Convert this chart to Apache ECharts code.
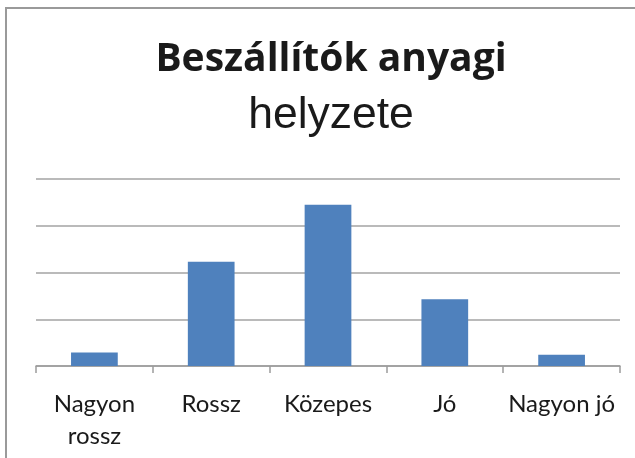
<!DOCTYPE html>
<html>
<head>
<meta charset="utf-8">
<script src="https://cdn.jsdelivr.net/npm/echarts@6/dist/echarts.min.js"></script>
<style>
    html, body { margin: 0; padding: 0; background: #fff; }
    #bar_chart { width: 635px; height: 458px; }
</style>
</head>
<body>
<div id="bar_chart"></div>
<script>
// adatok
var categories = ['Nagyon rossz', 'Rossz', 'Közepes', 'Jó', 'Nagyon jó'];
var values = [2.9, 22.3, 34.5, 14.3, 2.4];
var titleLine1 = 'Beszállítók anyagi';
var titleLine2 = 'helyzete';

function bar_draw() {
    var chart = echarts.init(document.getElementById('bar_chart'));

    var option = {
        backgroundColor: '#ffffff',
        animation: false,
        title: {
            text: '{b|' + titleLine1 + '}\n{r|' + titleLine2 + '}',
            left: 326,
            top: 28,
            textAlign: 'center',
            textStyle: {
                rich: {
                    b: {
                        fontFamily: 'Open Sans',
                        fontWeight: 'bold',
                        fontSize: 39,
                        lineHeight: 54,
                        color: '#1a1a1a'
                    },
                    r: {
                        fontFamily: 'Liberation Sans',
                        fontWeight: 'normal',
                        fontSize: 44.5,
                        lineHeight: 58,
                        color: '#1a1a1a'
                    }
                }
            }
        },
        graphic: [{
            type: 'rect',
            shape: { x: 6, y: 8, width: 700, height: 500 },
            style: { fill: 'none', stroke: '#9a9a9a', lineWidth: 2 },
            silent: true
        }],
        grid: {
            left: 36,
            right: 15,
            top: 179,
            bottom: 92
        },
        xAxis: {
            type: 'category',
            data: categories,
            axisLine: { lineStyle: { color: '#9c9c9c', width: 1.5 } },
            axisTick: { show: true, length: 7, lineStyle: { color: '#9c9c9c', width: 1.5 } },
            axisLabel: {
                interval: 0,
                fontFamily: 'Lato',
                fontSize: 24,
                color: '#1a1a1a',
                margin: 22,
                lineHeight: 32,
                formatter: function (v) {
                    // csak a hosszú címkét törjük két sorba
                    return v.length > 10 ? v.replace(' ', '\n') : v;
                }
            }
        },
        yAxis: {
            type: 'value',
            min: 0,
            max: 40,
            interval: 10,
            axisLabel: { show: false },
            axisLine: { show: false },
            axisTick: { show: false },
            splitLine: { lineStyle: { color: '#a3a3a3', width: 1.5 } }
        },
        series: [{
            name: 'Beszállítók',
            type: 'bar',
            data: values,
            barWidth: '40%',
            itemStyle: { color: '#4f81bd' }
        }]
    };

    chart.setOption(option);

    window.onresize = chart.resize;
}

bar_draw();
</script>
</body>
</html>
